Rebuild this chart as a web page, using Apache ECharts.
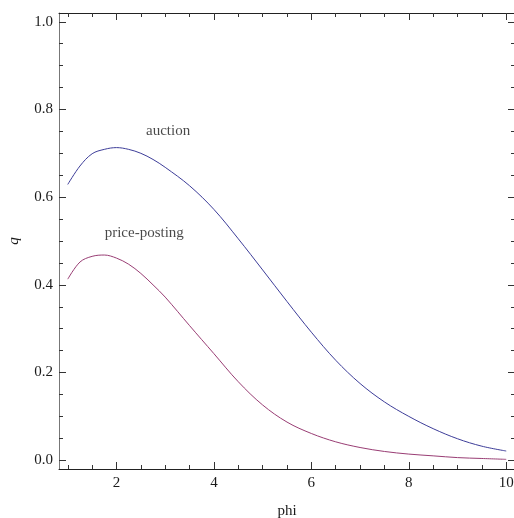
<!DOCTYPE html>
<html>
<head>
<meta charset="utf-8">
<script src="https://cdn.jsdelivr.net/npm/echarts@6/dist/echarts.min.js"></script>
<style>
  html, body { margin: 0; padding: 0; background: #fff; }
  #chart { width: 514px; height: 518px; }
</style>
</head>
<body>
<div id="chart"></div>
<script>
  // values
  var phi = [1, 1.25, 1.5, 1.75, 2, 2.25, 2.5, 2.75, 3, 3.5, 4, 4.5, 5, 5.5, 6, 6.5, 7, 7.5, 8, 8.5, 9, 9.5, 10];
  var auction = [0.629, 0.671, 0.699, 0.709, 0.713, 0.709, 0.700, 0.686, 0.668, 0.626, 0.572, 0.505, 0.434, 0.362, 0.292, 0.228, 0.175, 0.133, 0.100, 0.072, 0.049, 0.032, 0.021];
  var pricePosting = [0.413, 0.452, 0.465, 0.468, 0.461, 0.447, 0.426, 0.400, 0.372, 0.307, 0.243, 0.179, 0.126, 0.087, 0.061, 0.042, 0.029, 0.020, 0.014, 0.010, 0.006, 0.004, 0.002];

  var labelText = ['auction', 'price-posting'];
  var labelPhi = [3.06, 2.57];
  var labelQ = [0.751, 0.518];

  var xMajorTicks = [2, 4, 6, 8, 10];
  var xMinorTicks = [1, 1.5, 2, 2.5, 3, 3.5, 4, 4.5, 5, 5.5, 6, 6.5, 7, 7.5, 8, 8.5, 9, 9.5, 10];
  var yMajorTicks = [0, 0.2, 0.4, 0.6, 0.8, 1.0];
  var yMinorTicks = [0, 0.05, 0.1, 0.15, 0.2, 0.25, 0.3, 0.35, 0.4, 0.45, 0.5, 0.55, 0.6, 0.65, 0.7, 0.75, 0.8, 0.85, 0.9, 0.95, 1.0];

  var xMin = 0.82, xMax = 10.18;
  var yMin = -0.02, yMax = 1.02;

  var font = 'Liberation Serif';
  var textColor = '#1a1a1a';

  function pairs(xs, ys) {
    return xs.map(function (x, i) { return [x, ys[i]]; });
  }

  function frameAxis(kind, pos, ticks, len, showLine, lineColor) {
    return {
      type: 'value',
      position: pos,
      min: kind === 'x' ? xMin : yMin,
      max: kind === 'x' ? xMax : yMax,
      axisLine: { show: showLine, onZero: false, lineStyle: { color: lineColor, width: 1 } },
      axisTick: { show: true, inside: true, length: len, customValues: ticks, lineStyle: { color: '#333', width: 1 } },
      axisLabel: { show: false },
      splitLine: { show: false }
    };
  }

  var chart = echarts.init(document.getElementById('chart'));

  var xBottom = frameAxis('x', 'bottom', xMajorTicks, 7, true, '#222');
  xBottom.axisLabel = {
    show: true, customValues: xMajorTicks, margin: 7,
    fontFamily: font, fontSize: 15, color: textColor
  };
  xBottom.name = 'phi';
  xBottom.nameLocation = 'middle';
  xBottom.nameGap = 35;
  xBottom.nameTextStyle = { fontFamily: font, fontSize: 15, color: textColor };

  var yLeft = frameAxis('y', 'left', yMajorTicks, 7, true, '#777');
  yLeft.axisLabel = {
    show: true, customValues: yMajorTicks, margin: 6,
    fontFamily: font, fontSize: 15, color: textColor,
    formatter: function (v) { return v.toFixed(1); }
  };
  yLeft.name = 'q';
  yLeft.nameLocation = 'middle';
  yLeft.nameGap = 37;
  yLeft.nameTextStyle = { fontFamily: font, fontSize: 15, fontStyle: 'italic', color: textColor };

  chart.setOption({
    animation: false,
    backgroundColor: '#fff',
    grid: { left: 59, top: 13, right: -1, bottom: 49, containLabel: false, outerBoundsMode: 'none' },
    xAxis: [
      xBottom,
      frameAxis('x', 'bottom', xMinorTicks, 4, false, '#222'),
      frameAxis('x', 'top', xMajorTicks, 7, true, '#222'),
      frameAxis('x', 'top', xMinorTicks, 4, false, '#222')
    ],
    yAxis: [
      yLeft,
      frameAxis('y', 'left', yMinorTicks, 4, false, '#777'),
      frameAxis('y', 'right', yMajorTicks, 7, true, '#777'),
      frameAxis('y', 'right', yMinorTicks, 4, false, '#777')
    ],
    series: [
      {
        name: 'auction',
        type: 'line',
        data: pairs(phi, auction),
        showSymbol: false,
        smooth: 0.35,
        lineStyle: { color: '#3d3d99', width: 1 }
      },
      {
        name: 'price-posting',
        type: 'line',
        data: pairs(phi, pricePosting),
        showSymbol: false,
        smooth: 0.35,
        lineStyle: { color: '#993d74', width: 1 }
      },
      {
        type: 'scatter',
        symbolSize: 0,
        silent: true,
        data: labelText.map(function (t, i) {
          return { name: t, value: [labelPhi[i], labelQ[i]] };
        }),
        label: {
          show: true,
          position: 'inside',
          formatter: '{b}',
          fontFamily: font,
          fontSize: 15,
          color: textColor
        }
      }
    ]
  });
</script>
</body>
</html>
